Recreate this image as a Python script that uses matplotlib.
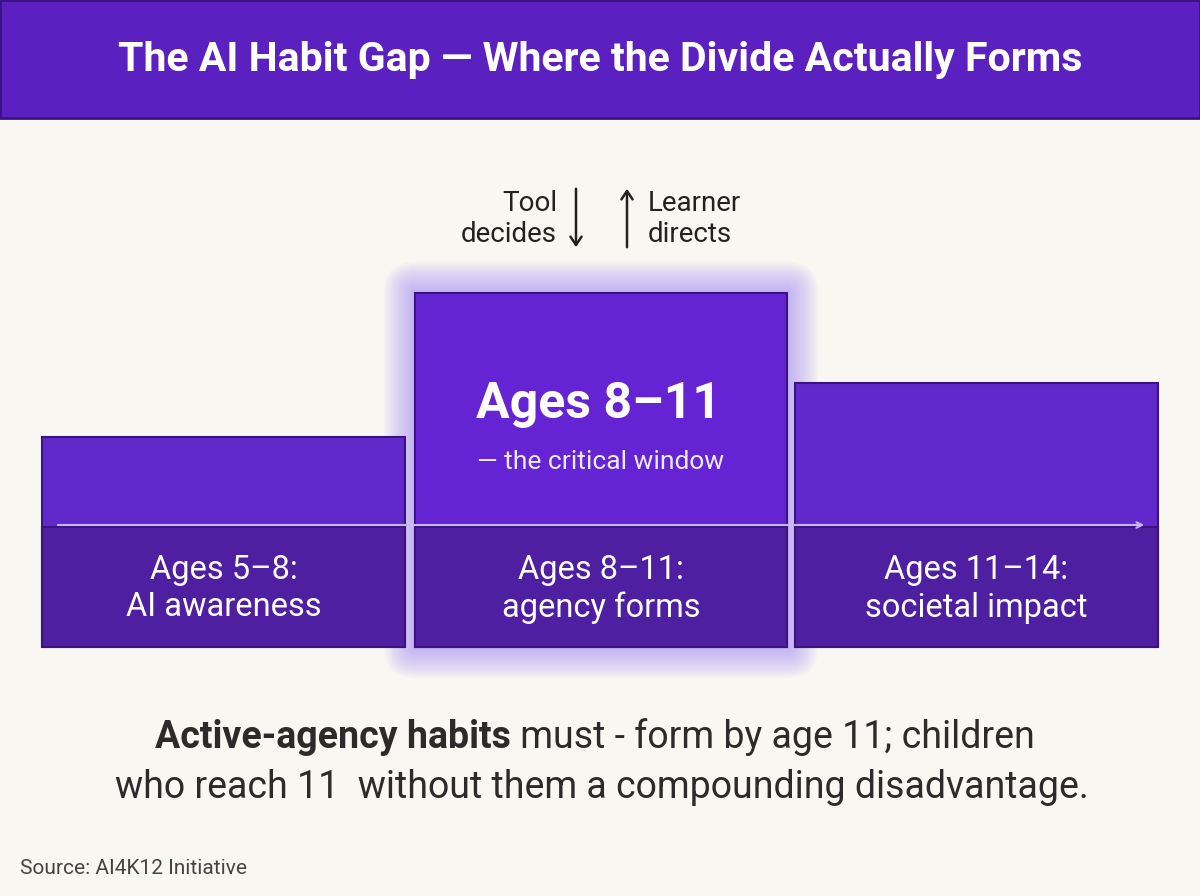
import matplotlib
matplotlib.use("Agg")
import matplotlib.pyplot as plt
from matplotlib.patches import Rectangle, FancyBboxPatch

plt.rcParams['font.family'] = ['Roboto', 'DejaVu Sans']

# data (pixel-scale heights of the three stage blocks)
stages = ["Ages 5\u20138:\nAI awareness", "Ages 8\u201311:\nagency forms", "Ages 11\u201314:\nsocietal impact"]
lefts = [42, 415, 795]
widths = [363, 372, 363]
heights = [210, 354, 264]
band_h = 120

fig = plt.figure(figsize=(12, 8.96), dpi=100)
fig.patch.set_facecolor("#F8F7F2")
ax = fig.add_axes([0, 0, 1, 1])
ax.set_xlim(0, 1200)
ax.set_ylim(896, 0)
ax.axis("off")

# banner
ax.add_patch(Rectangle((0, 0), 1200, 118, facecolor="#5B21C0", edgecolor="#3B1380", lw=2))
ax.text(600, 60, "The AI Habit Gap \u2014 Where the Divide Actually Forms", color="white",
        fontsize=29.5, fontweight="bold", ha="center", va="center")

base = 647
# glow behind the middle block
for i in range(14, 0, -1):
    pad = i * 2.2
    ax.add_patch(FancyBboxPatch((lefts[1] - pad, base - heights[1] - pad), widths[1] + 2 * pad,
                                heights[1] + 2 * pad, boxstyle="round,pad=0,rounding_size=%f" % pad,
                                facecolor="#A78BFA", edgecolor="none", alpha=0.06))

tops = ["#6128CC", "#6424D4", "#6128CC"]
for i in range(3):
    ax.bar(lefts[i], heights[i], width=widths[i], bottom=base - heights[i], align="edge",
           color=tops[i], edgecolor="#3B1380", lw=1.5)
    ax.bar(lefts[i], band_h, width=widths[i], bottom=base - band_h, align="edge",
           color="#4E1FA0", edgecolor="#3B1380", lw=1.5)
    ax.text(lefts[i] + widths[i] / 2, base - band_h / 2 + 2, stages[i], color="white",
            fontsize=23.5, ha="center", va="center", linespacing=1.2)

ax.annotate("", xy=(1147, 525), xytext=(55, 525),
            arrowprops=dict(arrowstyle="->", color="#C4B5FD", lw=1.5))

ax.text(599, 405, "Ages 8\u201311", color="white", fontsize=36, fontweight="bold",
        ha="center", va="center")
ax.text(601, 462, "\u2014 the critical window", color="#EDE9FE", fontsize=19,
        ha="center", va="center")

ax.text(557, 219, "Tool\ndecides", fontsize=20, ha="right", va="center", color="#222",
        multialignment="right", linespacing=1.15)
ax.text(648, 219, "Learner\ndirects", fontsize=20, ha="left", va="center", color="#222",
        linespacing=1.15)
ax.annotate("", xy=(576, 250), xytext=(576, 186),
            arrowprops=dict(arrowstyle="->,head_width=0.4,head_length=0.6", color="#222", lw=1.8))
ax.annotate("", xy=(627, 186), xytext=(627, 250),
            arrowprops=dict(arrowstyle="->,head_width=0.4,head_length=0.6", color="#222", lw=1.8))

# caption with bold lead
fig.canvas.draw()
r = fig.canvas.get_renderer()
b = ax.text(0, 737, "Active-agency habits", fontsize=27, fontweight="bold", color="#2b2b2b", va="center")
n = ax.text(0, 737, " must - form by age 11; children", fontsize=27, color="#2b2b2b", va="center")
wb = b.get_window_extent(r).width
wn = n.get_window_extent(r).width
x0 = 595 - (wb + wn) / 2
b.set_x(x0)
n.set_x(x0 + wb)
ax.text(602, 787, "who reach 11  without them a compounding disadvantage.", fontsize=27,
        color="#2b2b2b", ha="center", va="center")

ax.text(20, 868, "Source: AI4K12 Initiative", fontsize=15, color="#444", va="center")

fig.savefig("out.png", dpi=100, facecolor=fig.get_facecolor())
